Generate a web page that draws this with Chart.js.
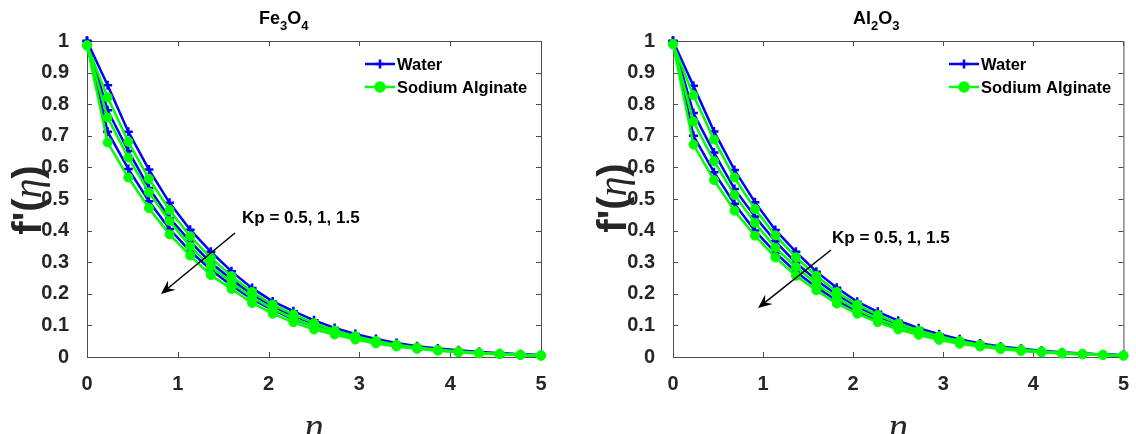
<!DOCTYPE html>
<html>
<head>
<meta charset="utf-8">
<script src="https://cdn.jsdelivr.net/npm/chart.js@4.4.0/dist/chart.umd.min.js"></script>
<style>
	body { margin: 0; background: #fff; width: 1136px; height: 434px; overflow: hidden; position: relative; }
	canvas { position: absolute; top: 0; }
	#canvasFe { left: 0; }
	#canvasAl { left: 568px; }
</style>
</head>
<body>
<canvas id="canvasFe" width="568" height="434"></canvas>
<canvas id="canvasAl" width="568" height="434"></canvas>
<script>
"use strict";

// eta grid (23 points, 0..5)
var etaValues = [0, 0.227, 0.455, 0.682, 0.909, 1.136, 1.364, 1.591, 1.818, 2.045, 2.273, 2.5,
	2.727, 2.955, 3.182, 3.409, 3.636, 3.864, 4.091, 4.318, 4.545, 4.773, 5];
var xTicks = [0, 1, 2, 3, 4, 5];
var yTicks = [0, 0.1, 0.2, 0.3, 0.4, 0.5, 0.6, 0.7, 0.8, 0.9, 1];
var seriesNames = ['Water', 'Sodium Alginate'];

// Fe3O4 : Kp = 0.5, 1, 1.5
var feWater05 = [1.000, 0.860, 0.713, 0.593, 0.488, 0.403, 0.333, 0.271, 0.218, 0.176, 0.145, 0.116, 0.092, 0.073, 0.057, 0.044, 0.034, 0.027, 0.021, 0.016, 0.012, 0.009, 0.006];
var feWater1 = [1.000, 0.781, 0.652, 0.535, 0.440, 0.366, 0.298, 0.245, 0.198, 0.160, 0.130, 0.105, 0.084, 0.066, 0.051, 0.040, 0.031, 0.024, 0.018, 0.014, 0.011, 0.008, 0.005];
var feWater15 = [1.000, 0.713, 0.595, 0.493, 0.405, 0.335, 0.276, 0.226, 0.183, 0.149, 0.120, 0.097, 0.078, 0.061, 0.047, 0.037, 0.028, 0.022, 0.017, 0.013, 0.010, 0.007, 0.005];
var feSodium05 = [0.986, 0.822, 0.681, 0.564, 0.465, 0.382, 0.314, 0.256, 0.206, 0.166, 0.135, 0.107, 0.084, 0.066, 0.051, 0.039, 0.030, 0.023, 0.018, 0.013, 0.010, 0.007, 0.005];
var feSodium1 = [0.986, 0.758, 0.631, 0.521, 0.430, 0.350, 0.287, 0.235, 0.189, 0.152, 0.122, 0.097, 0.077, 0.060, 0.046, 0.036, 0.027, 0.021, 0.016, 0.012, 0.009, 0.007, 0.005];
var feSodium15 = [0.986, 0.679, 0.568, 0.471, 0.388, 0.321, 0.259, 0.215, 0.171, 0.137, 0.110, 0.087, 0.071, 0.055, 0.043, 0.033, 0.026, 0.020, 0.015, 0.011, 0.009, 0.006, 0.004];

// Al2O3 : Kp = 0.5, 1, 1.5
var alWater05 = [1.000, 0.858, 0.714, 0.592, 0.490, 0.402, 0.333, 0.270, 0.219, 0.175, 0.143, 0.115, 0.091, 0.072, 0.056, 0.043, 0.033, 0.026, 0.020, 0.015, 0.011, 0.008, 0.006];
var alWater1 = [1.000, 0.772, 0.647, 0.532, 0.445, 0.366, 0.298, 0.244, 0.197, 0.159, 0.129, 0.104, 0.083, 0.065, 0.050, 0.039, 0.030, 0.023, 0.018, 0.013, 0.010, 0.008, 0.005];
var alWater15 = [1.000, 0.700, 0.585, 0.485, 0.400, 0.330, 0.270, 0.221, 0.179, 0.145, 0.117, 0.094, 0.075, 0.059, 0.046, 0.036, 0.027, 0.021, 0.016, 0.012, 0.009, 0.007, 0.005];
var alSodium05 = [0.990, 0.828, 0.688, 0.568, 0.468, 0.385, 0.316, 0.257, 0.206, 0.166, 0.133, 0.106, 0.084, 0.066, 0.051, 0.039, 0.030, 0.023, 0.018, 0.013, 0.010, 0.007, 0.005];
var alSodium1 = [0.990, 0.745, 0.620, 0.513, 0.425, 0.346, 0.285, 0.232, 0.187, 0.150, 0.120, 0.096, 0.076, 0.059, 0.046, 0.035, 0.027, 0.021, 0.016, 0.012, 0.009, 0.007, 0.005];
var alSodium15 = [0.990, 0.672, 0.560, 0.463, 0.384, 0.315, 0.257, 0.211, 0.169, 0.137, 0.110, 0.087, 0.070, 0.054, 0.042, 0.033, 0.025, 0.019, 0.015, 0.011, 0.008, 0.006, 0.004];

var waterColor = '#0000ff';
var sodiumColor = '#00ff00';
var axisColor = '#262626';
var SANS = '"Liberation Sans", Arial, sans-serif';
var SERIF = '"Liberation Serif", "DejaVu Serif", serif';

function BuildDatasets(waterSets, sodiumSets) {
	var datasets = [];
	waterSets.forEach(function (values) {
		datasets.push({
			label: seriesNames[0],
			data: values.map(function (v, i) { return { x: etaValues[i], y: v }; }),
			borderColor: waterColor,
			backgroundColor: waterColor,
			borderWidth: 2.5,
			pointStyle: 'cross',
			pointRadius: 4.5,
			pointBorderWidth: 2.5,
			order: 1,
			clip: false
		});
	});
	sodiumSets.forEach(function (values) {
		datasets.push({
			label: seriesNames[1],
			data: values.map(function (v, i) { return { x: etaValues[i], y: v }; }),
			borderColor: sodiumColor,
			backgroundColor: sodiumColor,
			borderWidth: 2.5,
			pointStyle: 'circle',
			pointRadius: 4.5,
			pointBorderWidth: 1,
			order: 0,
			clip: false
		});
	});
	return datasets;
}

// text made of runs (for subscripts / mixed fonts)
function DrawRuns(ctx, runs, x, y) {
	runs.forEach(function (r) {
		ctx.font = r.font;
		ctx.fillText(r.text, x, y + (r.dy || 0));
		x += ctx.measureText(r.text).width;
	});
}

function RunsWidth(ctx, runs) {
	var w = 0;
	runs.forEach(function (r) { ctx.font = r.font; w += ctx.measureText(r.text).width; });
	return w;
}

function DrawArrow(ctx, x0, y0, x1, y1) {
	var ang = Math.atan2(y1 - y0, x1 - x0);
	var len = 14, half = 6, back = 9;
	ctx.strokeStyle = '#000';
	ctx.fillStyle = '#000';
	ctx.lineWidth = 1.5;
	ctx.beginPath();
	ctx.moveTo(x0, y0);
	ctx.lineTo(x1 - Math.cos(ang) * back, y1 - Math.sin(ang) * back);
	ctx.stroke();
	ctx.save();
	ctx.translate(x1, y1);
	ctx.rotate(ang);
	ctx.beginPath();
	ctx.moveTo(0, 0);
	ctx.lineTo(-len, -half);
	ctx.lineTo(-back, 0);
	ctx.lineTo(-len, half);
	ctx.closePath();
	ctx.fill();
	ctx.restore();
}

// MATLAB like box, inward ticks, legend, labels
var matlabAxes = {
	id: 'matlabAxes',
	beforeDatasetsDraw: function (chart) {
		var ctx = chart.ctx, a = chart.chartArea;
		var xs = chart.scales.x, ys = chart.scales.y;
		ctx.save();
		ctx.strokeStyle = '#4d4d4d';
		ctx.lineWidth = 1;
		ctx.beginPath();
		ctx.rect(a.left + 0.5, a.top + 0.5, a.right - a.left, a.bottom - a.top);
		xTicks.forEach(function (t) {
			var px = Math.round(xs.getPixelForValue(t)) + 0.5;
			ctx.moveTo(px, a.bottom); ctx.lineTo(px, a.bottom - 5);
			ctx.moveTo(px, a.top); ctx.lineTo(px, a.top + 5);
		});
		yTicks.forEach(function (t) {
			var py = Math.round(ys.getPixelForValue(t)) + 0.5;
			ctx.moveTo(a.left, py); ctx.lineTo(a.left + 5, py);
			ctx.moveTo(a.right, py); ctx.lineTo(a.right - 5, py);
		});
		ctx.stroke();
		ctx.restore();
	},
	afterDraw: function (chart, args, opts) {
		var ctx = chart.ctx, a = chart.chartArea;
		ctx.save();

		// title
		ctx.fillStyle = '#000';
		ctx.textBaseline = 'alphabetic';
		DrawRuns(ctx, opts.title, opts.titleX, 24);

		// legend
		var lx = opts.legendX;
		[[waterColor, 'cross', 64], [sodiumColor, 'circle', 87]].forEach(function (e, i) {
			ctx.strokeStyle = e[0];
			ctx.fillStyle = e[0];
			ctx.lineWidth = 2.5;
			ctx.beginPath();
			ctx.moveTo(lx, e[2]); ctx.lineTo(lx + 30, e[2]);
			ctx.stroke();
			Chart.helpers.drawPoint(ctx, { pointStyle: e[1], radius: 4.5, borderWidth: e[1] === 'cross' ? 2.5 : 1 }, lx + 15, e[2]);
			ctx.fillStyle = '#000';
			ctx.font = 'bold 16.5px ' + SANS;
			ctx.textBaseline = 'middle';
			ctx.fillText(seriesNames[i], lx + 32, e[2] + 1);
		});

		// annotation
		ctx.fillStyle = '#000';
		ctx.font = 'bold 17px ' + SANS;
		ctx.textBaseline = 'middle';
		ctx.fillText('Kp = 0.5, 1, 1.5', opts.note[0], opts.note[1]);
		DrawArrow(ctx, opts.arrow[0], opts.arrow[1], opts.arrow[2], opts.arrow[3]);

		// y label f'(eta)
		var yRuns = [
			{ text: "f'(", font: 'bold 40px ' + SANS },
			{ text: '\u03B7', font: 'italic 40px ' + SERIF },
			{ text: ')', font: 'bold 40px ' + SANS }
		];
		ctx.save();
		ctx.translate(opts.yLabel[0], opts.yLabel[1]);
		ctx.rotate(-Math.PI / 2);
		ctx.fillStyle = axisColor;
		ctx.textBaseline = 'alphabetic';
		DrawRuns(ctx, yRuns, -RunsWidth(ctx, yRuns) / 2, 11);
		ctx.restore();

		// x label eta (cut by the bottom edge)
		ctx.fillStyle = axisColor;
		ctx.font = 'italic 38px ' + SERIF;
		ctx.textAlign = 'center';
		ctx.textBaseline = 'alphabetic';
		ctx.fillText('\u03B7', (a.left + a.right) / 2, 439);
		ctx.restore();
	}
};

function MakeChart(canvasId, datasets, axisWidth, rightPad, extra) {
	return new Chart(document.getElementById(canvasId), {
		type: 'line',
		data: { datasets: datasets },
		options: {
			responsive: false,
			animation: false,
			devicePixelRatio: 1,
			layout: { padding: { top: 41, right: rightPad, left: 0, bottom: 0 } },
			plugins: { legend: { display: false }, tooltip: { enabled: false }, matlabAxes: extra },
			scales: {
				x: {
					type: 'linear', min: 0, max: 5,
					grid: { display: false }, border: { display: false },
					afterBuildTicks: function (axis) { axis.ticks = xTicks.map(function (v) { return { value: v }; }); },
					afterFit: function (axis) { axis.height = 77; },
					ticks: { color: axisColor, padding: 7, maxRotation: 0, font: { family: SANS, size: 20, weight: 'bold' } }
				},
				y: {
					type: 'linear', min: 0, max: 1,
					grid: { display: false }, border: { display: false },
					afterBuildTicks: function (axis) { axis.ticks = yTicks.map(function (v) { return { value: v }; }); },
					afterFit: function (axis) { axis.width = axisWidth; },
					ticks: {
						color: axisColor, padding: 10, font: { family: SANS, size: 20, weight: 'bold' },
						callback: function (v) { return String(+v.toFixed(1)); }
					}
				}
			}
		},
		plugins: [matlabAxes]
	});
}

MakeChart('canvasFe', BuildDatasets([feWater05, feWater1, feWater15], [feSodium05, feSodium1, feSodium15]), 87, 27, {
	title: [
		{ text: 'Fe', font: 'bold 18px ' + SANS },
		{ text: '3', font: 'bold 13px ' + SANS, dy: 6 },
		{ text: 'O', font: 'bold 18px ' + SANS },
		{ text: '4', font: 'bold 13px ' + SANS, dy: 6 }
	],
	titleX: 259,
	legendX: 365,
	note: [242, 218],
	arrow: [235, 233, 161, 294],
	yLabel: [30, 200]
});

MakeChart('canvasAl', BuildDatasets([alWater05, alWater1, alWater15], [alSodium05, alSodium1, alSodium15]), 105, 10, {
	title: [
		{ text: 'Al', font: 'bold 18px ' + SANS },
		{ text: '2', font: 'bold 13px ' + SANS, dy: 6 },
		{ text: 'O', font: 'bold 18px ' + SANS },
		{ text: '3', font: 'bold 13px ' + SANS, dy: 6 }
	],
	titleX: 285,
	legendX: 381,
	note: [264, 238],
	arrow: [263, 250, 190, 308],
	yLabel: [47, 198]
});
</script>
</body>
</html>
